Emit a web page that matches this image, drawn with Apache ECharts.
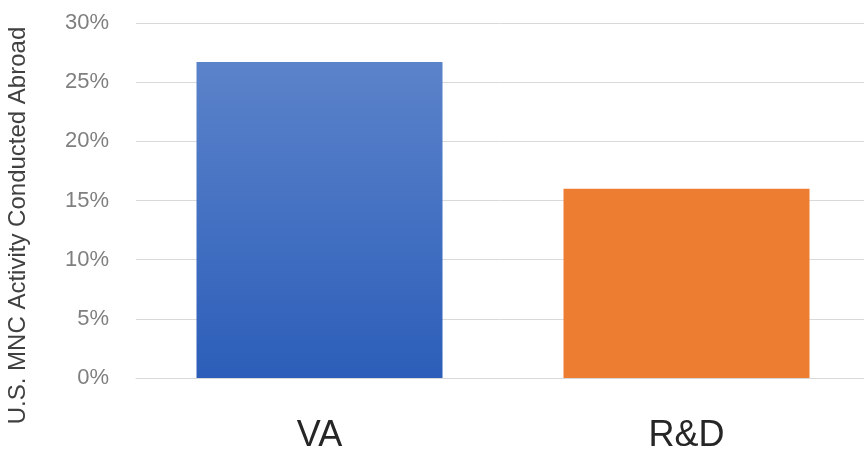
<!DOCTYPE html>
<html>
<head>
<meta charset="UTF-8">
<title>MNC activity abroad</title>
<script src="https://cdn.jsdelivr.net/npm/echarts@6/dist/echarts.min.js"></script>
<style>
  html, body { margin: 0; padding: 0; background: #fff; }
  #main { width: 864px; height: 451px; }
</style>
</head>
<body>
<div id="main"></div>
<script type="text/javascript">
    // data
    var categories = ['VA', 'R&D'];
    var shares = [26.7, 16.0];
    var yTicks = [0, 5, 10, 15, 20, 25, 30];
    var yTitle = 'U.S. MNC Activity Conducted Abroad';

    var blueFill = new echarts.graphic.LinearGradient(0, 0, 0, 1, [
        { offset: 0, color: '#5b83ca' },
        { offset: 1, color: '#2c5eb9' }
    ]);
    var barColors = [blueFill, '#ed7d31'];

    var myChart = echarts.init(document.getElementById('main'));
    myChart.setOption({
        animation: false,
        // plot runs a little past the right edge of the picture
        grid: {
            left: 136, width: 734, top: 23, bottom: 73,
            containLabel: false,
            outerBoundsMode: 'none'
        },
        xAxis: {
            type: 'category',
            data: categories,
            axisLine: { show: true, lineStyle: { color: '#d9d9d9', width: 1 } },
            axisTick: { show: false },
            axisLabel: {
                margin: 40,
                fontFamily: 'Liberation Sans',
                fontSize: 36,
                color: '#262626'
            }
        },
        yAxis: {
            type: 'value',
            min: yTicks[0],
            max: yTicks[yTicks.length - 1],
            interval: 5,
            axisLine: { show: false },
            axisTick: { show: false },
            splitLine: { lineStyle: { color: '#d9d9d9', width: 1 } },
            axisLabel: {
                margin: 27,
                fontFamily: 'Liberation Sans',
                fontSize: 22,
                color: '#7f7f7f',
                formatter: function (v) { return v + '%'; }
            }
        },
        graphic: [{
            type: 'text',
            left: 6,
            top: 'center',
            rotation: Math.PI / 2,
            style: {
                text: yTitle,
                fontFamily: 'Liberation Sans',
                fontSize: 24,
                fill: '#404040'
            }
        }],
        series: [{
            type: 'bar',
            barWidth: 246,
            data: shares.map(function (v, i) {
                return { value: v, itemStyle: { color: barColors[i] } };
            })
        }]
    });
</script>
</body>
</html>
